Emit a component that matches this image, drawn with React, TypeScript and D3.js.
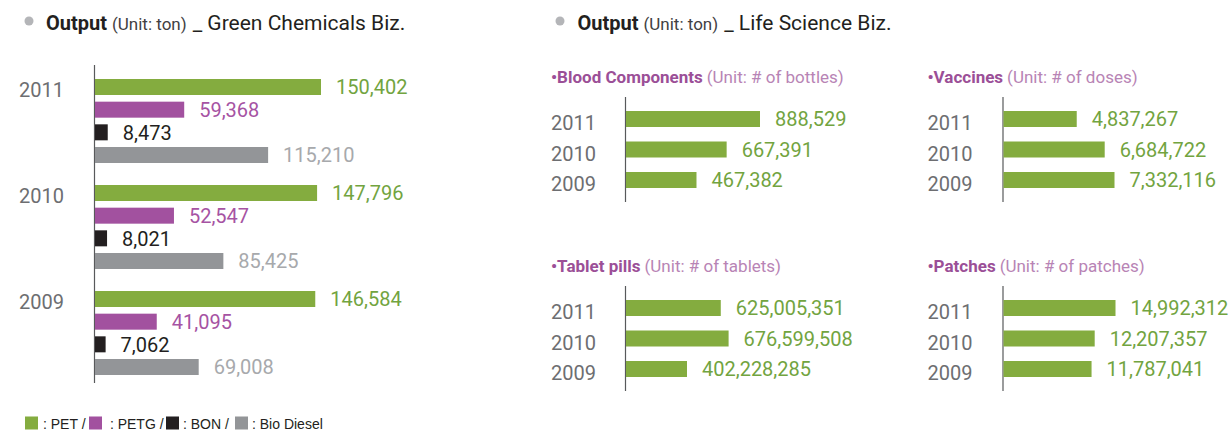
import React from 'react';
import * as d3 from 'd3';

// ---------- data ----------
const years = ['2011', '2010', '2009'];
const greenSeries = ['PET', 'PETG', 'BON', 'Bio Diesel'];
const petValues = [150402, 147796, 146584];
const petgValues = [59368, 52547, 41095];
const bonValues = [8473, 8021, 7062];
const bioDieselValues = [115210, 85425, 69008];

const bloodValues = [888529, 667391, 467382];
const vaccineValues = [4837267, 6684722, 7332116];
const tabletValues = [625005351, 676599508, 402228285];
const patchValues = [14992312, 12207357, 11787041];

const panelTitles = ['Blood Components', 'Vaccines', 'Tablet pills', 'Patches'];
const panelUnits = ['(Unit: # of bottles)', '(Unit: # of doses)', '(Unit: # of tablets)', '(Unit: # of patches)'];

// ---------- styles ----------
const FONT = 'Roboto, sans-serif';
const seriesBar = ['#84ac3f', '#a2519f', '#231f20', '#939598'];
const seriesText = ['#72a43f', '#a653a3', '#231f20', '#a7a9ac'];
const yearColor = '#6d6e71';
const axisColor = '#58595b';
const green = '#84ac3f';
const greenText = '#72a43f';

const fmt = d3.format(',');

export default function App() {
  const greenValues = [petValues, petgValues, bonValues, bioDieselValues];

  // left chart scales
  const xL = d3.scaleLinear().domain([0, 150402]).range([0, 226]);
  const yG = d3.scalePoint<string>().domain(years).range([79, 291]);
  const yS = d3.scalePoint<string>().domain(greenSeries).range([0, 68]);
  const barH = 16;
  const leftX = 95;

  // right panels layout
  const panelValues = [bloodValues, vaccineValues, tabletValues, patchValues];
  const panelLayout = [
    { labelX: 551, axisX: 626, off: 0, maxW: 134 },
    { labelX: 927.5, axisX: 1003.5, off: 0, maxW: 111 },
    { labelX: 551, axisX: 626, off: 189, maxW: 102.6 },
    { labelX: 927.5, axisX: 1003.5, off: 189, maxW: 112 },
  ];
  const yR = d3.scalePoint<string>().domain(years).range([111, 172]);

  const legendSq = [25, 89, 166, 235];
  const legendTx = [43, 106, 183, 252];
  const legendLabels = [': PET /', ' : PETG /', ': BON /', ': Bio Diesel'];

  return (
    <div style={{ position: 'absolute', left: 0, top: 0 }}>
      <svg width={1229} height={434} style={{ display: 'block', background: '#fff' }} fontFamily={FONT}>
        {/* titles */}
        <circle cx={29} cy={21} r={4.5} fill="#b4b5b8" />
        <text x={46} y={29.5} fontSize={21} fill="#231f20">
          <tspan fontWeight={700} fontSize={20}>Output</tspan>
          <tspan fontSize={17} fill="#414042" dx={5}>(Unit: ton)</tspan>
          <tspan dx={6}>_ Green Chemicals Biz.</tspan>
        </text>
        <circle cx={560} cy={21} r={4.5} fill="#b4b5b8" />
        <text x={577.5} y={29.5} fontSize={21} fill="#231f20">
          <tspan fontWeight={700} fontSize={20}>Output</tspan>
          <tspan fontSize={17} fill="#414042" dx={5}>(Unit: ton)</tspan>
          <tspan dx={6}>_ Life Science Biz.</tspan>
        </text>

        {/* left chart */}
        <line x1={94.5} x2={94.5} y1={65} y2={383} stroke={axisColor} strokeWidth={1.2} />
        {years.map((yr, i) => (
          <g key={yr}>
            <text x={19} y={(yG(yr) as number) + barH / 2 + 10} fontSize={20} fill={yearColor}>{yr}</text>
            {greenSeries.map((s, j) => {
              const v = greenValues[j][i];
              const y = (yG(yr) as number) + (yS(s) as number);
              const w = xL(v);
              return (
                <g key={s}>
                  <rect x={leftX} y={y} width={w} height={barH} fill={seriesBar[j]} />
                  <text x={leftX + w + 15} y={y + barH / 2 + 7.2} fontSize={20} fill={seriesText[j]}>{fmt(v)}</text>
                </g>
              );
            })}
          </g>
        ))}

        {/* legend */}
        {greenSeries.map((s, j) => (
          <g key={s}>
            <rect x={legendSq[j]} y={416.5} width={13} height={13} fill={seriesBar[j]} />
            <text x={legendTx[j]} y={428.5} fontSize={14} fontFamily="'Liberation Sans', Arial, sans-serif" fill="#231f20" style={{ whiteSpace: 'pre' }}>{legendLabels[j]}</text>
          </g>
        ))}

        {/* right panels */}
        {panelTitles.map((t, p) => {
          const L = panelLayout[p];
          const vals = panelValues[p];
          const x = d3.scaleLinear().domain([0, d3.max(vals) as number]).range([0, L.maxW]);
          return (
            <g key={t}>
              <text x={L.labelX} y={82.5 + L.off} fontSize={17}>
                <tspan fontWeight={700} fill="#9b4f97">{'\u2022' + t}</tspan>
                <tspan fill="#b884b5" dx={4}>{panelUnits[p]}</tspan>
              </text>
              <line x1={L.axisX - 0.5} x2={L.axisX - 0.5} y1={97 + L.off} y2={202 + L.off} stroke={axisColor} strokeWidth={1.2} />
              {years.map((yr, i) => {
                const y = (yR(yr) as number) + L.off;
                const w = x(vals[i]);
                return (
                  <g key={yr}>
                    <text x={L.labelX} y={y + barH / 2 + 11} fontSize={20} fill={yearColor}>{yr}</text>
                    <rect x={L.axisX} y={y} width={w} height={barH} fill={green} />
                    <text x={L.axisX + w + 15} y={y + barH / 2 + 7.2} fontSize={20} fill={greenText}>{fmt(vals[i])}</text>
                  </g>
                );
              })}
            </g>
          );
        })}
      </svg>
    </div>
  );
}
